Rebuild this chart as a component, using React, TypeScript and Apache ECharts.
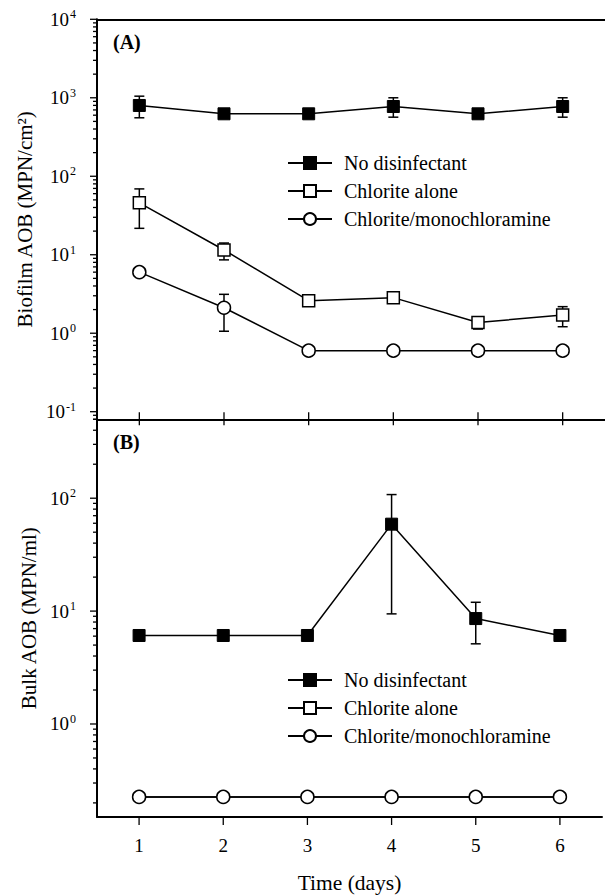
import React, { useEffect, useRef } from 'react';
import * as echarts from 'echarts';

const FONT = "'Liberation Serif', 'Times New Roman', serif";

const seriesNames = ['No disinfectant', 'Chlorite alone', 'Chlorite/monochloramine'];
const days = [1, 2, 3, 4, 5, 6];

// Panel A: Biofilm AOB (MPN/cm2)
const biofilmNoDisinfectant = [798, 625, 625, 774, 625, 774];
const biofilmChloriteAlone = [45.8, 11.5, 2.6, 2.84, 1.37, 1.71];
const biofilmChloriteMono = [6.0, 2.11, 0.6, 0.6, 0.6, 0.6];
// error bars: [day, low, high]
const biofilmNoDisinfectantErr = [[1, 556, 1048], [4, 566, 1000], [6, 566, 1000]];
const biofilmChloriteAloneErr = [[1, 21.7, 69], [2, 8.6, 14.1], [5, 1.13, 1.59], [6, 1.21, 2.18]];
const biofilmChloriteMonoErr = [[2, 1.06, 3.13]];

// Panel B: Bulk AOB (MPN/ml)
const bulkNoDisinfectant = [6.08, 6.08, 6.08, 58.9, 8.59, 6.08];
const bulkChloriteAlone = [0.226, 0.226, 0.226, 0.226, 0.226, 0.226];
const bulkChloriteMono = [0.226, 0.226, 0.226, 0.226, 0.226, 0.226];
const bulkNoDisinfectantErr = [[4, 9.45, 107.7], [5, 5.13, 11.97]];

// axes
const xMin = 0.5;
const xMax = 6.5;
const xTicks = [1, 2, 3, 4, 5, 6];
const yMinA = 0.08;
const yMaxA = 10000;
const yMinB = 0.15;
const yMaxB = 500;
const yMajorA = [0.1, 1, 10, 100, 1000, 10000];
const yMajorB = [1, 10, 100];
const minorSteps = [2, 3, 4, 5, 6, 7, 8, 9];
const decades = [0.01, 0.1, 1, 10, 100, 1000];

const minorIn = (lo: number, hi: number) =>
  decades.flatMap((d) => minorSteps.map((m) => +(m * d).toPrecision(3))).filter((v) => v >= lo && v <= hi);

const isPow10 = (v: number) => Math.abs(Math.log10(v) - Math.round(Math.log10(v))) < 1e-6;

const blackLine = { color: '#000', width: 1.5 };

function lineSeries(name: string, xi: number, yi: number, vals: number[], kind: string) {
  const base: any = {
    name,
    type: 'line',
    xAxisIndex: xi,
    yAxisIndex: yi,
    data: days.map((d, i) => [d, vals[i]]),
    lineStyle: blackLine,
    z: 3,
    silent: true,
  };
  if (kind === 'filled') {
    base.symbol = 'rect';
    base.symbolSize = 12;
    base.itemStyle = { color: '#000', borderColor: '#000', borderWidth: 1 };
  } else if (kind === 'hollow') {
    base.symbol = 'rect';
    base.symbolSize = 12;
    base.itemStyle = { color: '#fff', borderColor: '#000', borderWidth: 1.5 };
  } else if (kind === 'hidden-hollow') {
    base.symbol = 'rect';
    base.symbolSize = 8;
    base.itemStyle = { color: '#fff', borderColor: '#000', borderWidth: 1.5 };
  } else {
    base.symbol = 'circle';
    base.symbolSize = 13;
    base.itemStyle = { color: '#fff', borderColor: '#000', borderWidth: 1.5 };
  }
  return base;
}

function errSeries(xi: number, yi: number, data: number[][]) {
  return {
    type: 'custom',
    xAxisIndex: xi,
    yAxisIndex: yi,
    data,
    encode: { x: 0, y: [1, 2] },
    z: 1,
    clip: false,
    silent: true,
    renderItem: (_p: any, api: any) => {
      const lo = api.coord([api.value(0), api.value(1)]);
      const hi = api.coord([api.value(0), api.value(2)]);
      const w = 5;
      const st = { stroke: '#000', lineWidth: 1.5 };
      return {
        type: 'group',
        children: [
          { type: 'line', shape: { x1: lo[0], y1: lo[1], x2: hi[0], y2: hi[1] }, style: st },
          { type: 'line', shape: { x1: hi[0] - w, y1: hi[1], x2: hi[0] + w, y2: hi[1] }, style: st },
          { type: 'line', shape: { x1: lo[0] - w, y1: lo[1], x2: lo[0] + w, y2: lo[1] }, style: st },
        ],
      };
    },
  };
}

function yTickSeries(xi: number, yi: number, major: number[], minor: number[]) {
  const data = [...major.map((v) => [xMin, v, 7]), ...minor.map((v) => [xMin, v, 4])];
  return {
    type: 'custom',
    xAxisIndex: xi,
    yAxisIndex: yi,
    data,
    encode: { x: 0, y: 1 },
    z: 5,
    clip: false,
    silent: true,
    renderItem: (_p: any, api: any) => {
      const p = api.coord([api.value(0), api.value(1)]);
      const len = api.value(2);
      return {
        type: 'line',
        shape: { x1: p[0] - len, y1: p[1], x2: p[0], y2: p[1] },
        style: { stroke: '#000', lineWidth: 1.3 },
      };
    },
  };
}

function xTickSeries(xi: number, yi: number, yAt: number, up: number, down: number) {
  return {
    type: 'custom',
    xAxisIndex: xi,
    yAxisIndex: yi,
    data: xTicks.map((t) => [t, yAt]),
    encode: { x: 0, y: 1 },
    z: 5,
    clip: false,
    silent: true,
    renderItem: (_p: any, api: any) => {
      const p = api.coord([api.value(0), api.value(1)]);
      return {
        type: 'line',
        shape: { x1: p[0], y1: p[1] - up, x2: p[0], y2: p[1] + down },
        style: { stroke: '#000', lineWidth: 1.3 },
      };
    },
  };
}

const yLabel = {
  color: '#000',
  margin: 21,
  formatter: (v: number) => (isPow10(v) ? `{b|10}{s|${Math.round(Math.log10(v))}}` : ''),
  rich: {
    b: { fontSize: 19, lineHeight: 22, fontFamily: FONT, color: '#000' },
    s: { fontSize: 12, lineHeight: 12, verticalAlign: 'top', fontFamily: FONT, color: '#000', padding: [0, 0, 0, 1] },
  },
};

const axisLine = { show: true, onZero: false, lineStyle: { color: '#000', width: 2 } };

function legendAt(top: number) {
  return {
    data: seriesNames,
    orient: 'vertical',
    left: 287,
    top,
    padding: 0,
    itemWidth: 44,
    itemHeight: 15,
    itemGap: 8,
    selectedMode: false,
    textStyle: { fontFamily: FONT, fontSize: 20, color: '#000', lineHeight: 20, padding: [0, 0, 0, 7] },
  };
}

export default function App() {
  const ref = useRef<HTMLDivElement>(null);
  useEffect(() => {
    if (!ref.current) return;
    const chart = echarts.init(ref.current, undefined, { renderer: 'svg' });
    const option: any = {
      animation: false,
      backgroundColor: '#fff',
      textStyle: { fontFamily: FONT },
      grid: [
        { left: 97, top: 19.3, width: 511, height: 400 },
        { left: 97, top: 419.3, width: 511, height: 398.7 },
      ],
      xAxis: [
        {
          type: 'value', gridIndex: 0, min: xMin, max: xMax, position: 'bottom',
          axisLine, axisTick: { show: false }, axisLabel: { show: false }, splitLine: { show: false },
        },
        {
          type: 'value', gridIndex: 0, min: xMin, max: xMax, position: 'top',
          axisLine, axisTick: { show: false }, axisLabel: { show: false }, splitLine: { show: false },
        },
        {
          type: 'value', gridIndex: 1, min: xMin, max: xMax, position: 'bottom',
          axisLine, axisTick: { show: false }, splitLine: { show: false },
          axisLabel: {
            color: '#000', fontSize: 19, fontFamily: FONT, margin: 19,
            formatter: (v: number) => (xTicks.includes(v) ? String(v) : ''),
          },
          name: 'Time (days)', nameLocation: 'middle', nameGap: 55,
          nameTextStyle: { fontSize: 21.5, fontFamily: FONT, color: '#000' },
        },
      ],
      yAxis: [
        {
          type: 'log', gridIndex: 0, min: yMinA, max: yMaxA,
          axisLine, axisTick: { show: false }, splitLine: { show: false }, axisLabel: yLabel,
          name: 'Biofilm AOB (MPN/cm²)', nameLocation: 'middle', nameGap: 58,
          nameTextStyle: { fontSize: 21, fontFamily: FONT, color: '#000' },
        },
        {
          type: 'log', gridIndex: 1, min: yMinB, max: yMaxB,
          axisLine, axisTick: { show: false }, splitLine: { show: false }, axisLabel: yLabel,
          name: 'Bulk AOB (MPN/ml)', nameLocation: 'middle', nameGap: 58,
          nameTextStyle: { fontSize: 21, fontFamily: FONT, color: '#000' },
        },
      ],
      legend: [legendAt(153), legendAt(670)],
      graphic: [
        { type: 'text', left: 113, top: 32, style: { text: '(A)', font: `bold 20px ${FONT}`, fill: '#000' } },
        { type: 'text', left: 113, top: 432, style: { text: '(B)', font: `bold 20px ${FONT}`, fill: '#000' } },
      ],
      series: [
        errSeries(0, 0, biofilmNoDisinfectantErr),
        errSeries(0, 0, biofilmChloriteAloneErr),
        errSeries(0, 0, biofilmChloriteMonoErr),
        lineSeries(seriesNames[0], 0, 0, biofilmNoDisinfectant, 'filled'),
        lineSeries(seriesNames[1], 0, 0, biofilmChloriteAlone, 'hollow'),
        lineSeries(seriesNames[2], 0, 0, biofilmChloriteMono, 'circle'),
        errSeries(2, 1, bulkNoDisinfectantErr),
        lineSeries(seriesNames[0], 2, 1, bulkNoDisinfectant, 'filled'),
        lineSeries(seriesNames[1], 2, 1, bulkChloriteAlone, 'hidden-hollow'),
        lineSeries(seriesNames[2], 2, 1, bulkChloriteMono, 'circle'),
        yTickSeries(0, 0, yMajorA, minorIn(yMinA, yMaxA)),
        yTickSeries(2, 1, yMajorB, minorIn(yMinB, yMaxB)),
        xTickSeries(0, 0, yMinA, 7, 6),
        xTickSeries(2, 1, yMinB, 0, 8),
      ],
    };
    chart.setOption(option);
    return () => chart.dispose();
  }, []);
  return (
    <div
      ref={ref}
      style={{ position: 'absolute', left: 0, top: 0, width: 605, height: 895, background: '#fff' }}
    />
  );
}
